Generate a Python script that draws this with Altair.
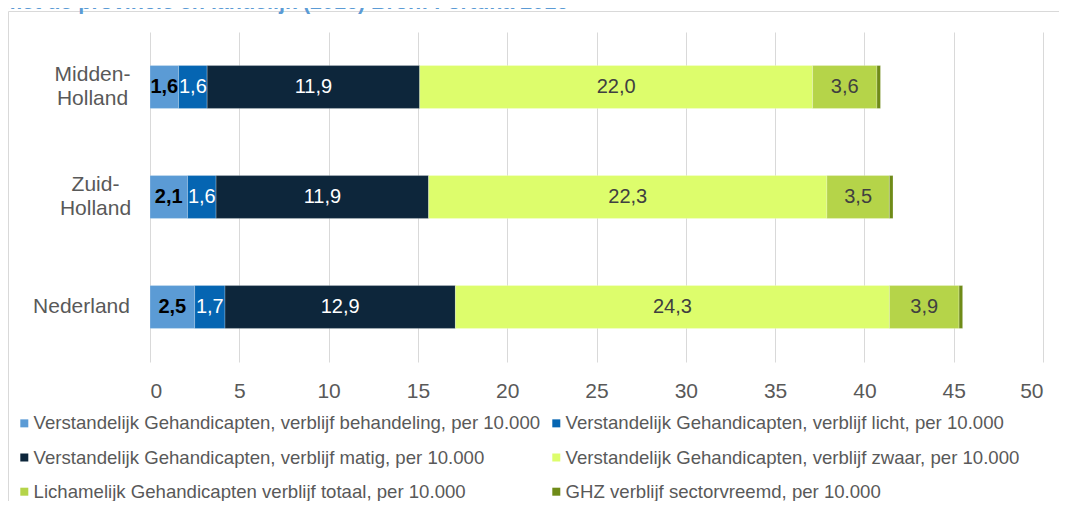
import altair as alt
import pandas as pd

categories = ["Midden-Holland", "Zuid-Holland", "Nederland"]
series = [
    "Verstandelijk Gehandicapten, verblijf behandeling, per 10.000",
    "Verstandelijk Gehandicapten, verblijf licht, per 10.000",
    "Verstandelijk Gehandicapten, verblijf matig, per 10.000",
    "Verstandelijk Gehandicapten, verblijf zwaar, per 10.000",
    "Lichamelijk Gehandicapten verblijf totaal, per 10.000",
    "GHZ verblijf sectorvreemd, per 10.000",
]
vg_behandeling = [1.6, 2.1, 2.5]
vg_licht = [1.6, 1.6, 1.7]
vg_matig = [11.9, 11.9, 12.9]
vg_zwaar = [22.0, 22.3, 24.3]
lg_totaal = [3.6, 3.5, 3.9]
ghz_sectorvreemd = [0.2, 0.2, 0.2]
x_ticks = [0, 5, 10, 15, 20, 25, 30, 35, 40, 45, 50]
title_text = "met de provincie en landelijk (2016) Bron: Fortuna 2016"

colors = ["#5B9BD5", "#0565B2", "#0D263B", "#DDFD6C", "#B5D449", "#6F8B18"]

all_series = [vg_behandeling, vg_licht, vg_matig, vg_zwaar, lg_totaal, ghz_sectorvreemd]
rows = []
for si, (name, vals) in enumerate(zip(series, all_series)):
    for ci, cat in enumerate(categories):
        rows.append({"category": cat, "series": name, "idx": si, "value": vals[ci]})
df = pd.DataFrame(rows)

FONT = "Liberation Sans"

base = (
    alt.Chart(df)
    .transform_stack(stack="value", groupby=["category"], as_=["x0", "x1"],
                     sort=[alt.SortField("idx", order="ascending")])
    .transform_calculate(mid="(datum.x0 + datum.x1) / 2",
                         label="replace(format(datum.value, '.1f'), '.', ',')")
)

x_enc_scale = alt.Scale(domain=[0, 50], nice=False, zero=True)
x_axis = alt.Axis(values=x_ticks, title=None, domain=False, ticks=False, grid=True,
                  gridColor="#D9D9D9", gridWidth=1, labelFont=FONT, labelFontSize=21,
                  labelColor="#595959", labelPadding=18)
y_enc = alt.Y(
    "category:N", sort=categories, title=None,
    scale=alt.Scale(paddingInner=0.61, paddingOuter=0.305),
    axis=alt.Axis(
        domain=False, ticks=False, grid=False, labelFont=FONT, labelFontSize=21,
        labelColor="#595959", labelAlign="center", labelBaseline="middle",
        labelLineHeight=24, labelLimit=0,
        labelPadding={"condition": [{"test": "datum.value == 'Nederland'", "value": 69},
                                    {"test": "datum.value == 'Zuid-Holland'", "value": 55}],
                      "value": 58},
        labelOffset={"condition": {"test": "indexof(datum.value, '-') > 0", "value": -12},
                     "value": 0},
        labelExpr="indexof(datum.label, '-') > 0 ? [slice(datum.label, 0, indexof(datum.label, '-') + 1), slice(datum.label, indexof(datum.label, '-') + 1)] : datum.label",
    ),
)

bars = base.mark_bar(stroke="#FFFFFF", strokeWidth=0.4, strokeOpacity=0.6).encode(
    x=alt.X("x0:Q", scale=x_enc_scale, axis=x_axis),
    x2="x1:Q",
    y=y_enc,
    color=alt.Color(
        "series:N",
        scale=alt.Scale(domain=series, range=colors),
        sort=series,
        legend=alt.Legend(
            title=None, orient="none", legendX=-135, legendY=382, columns=2,
            direction="horizontal",
            symbolType="square", symbolSize=64, symbolStrokeWidth=0, labelOffset=0,
            labelFont=FONT, labelFontSize=18.6, labelColor="#595959", labelLimit=0,
            columnPadding=6, rowPadding=15.2, padding=0,
        ),
    ),
)


def label_layer(filter_expr, color, weight):
    return base.transform_filter(filter_expr).mark_text(
        font=FONT, fontSize=20, color=color, fontWeight=weight,
        align="center", baseline="middle"
    ).encode(
        x=alt.X("mid:Q", scale=x_enc_scale, axis=x_axis),
        y=y_enc,
        text="label:N",
    )


lab_bold = label_layer("datum.idx == 0", "#000000", "bold")
lab_white = label_layer("datum.idx == 1 || datum.idx == 2", "#FFFFFF", "normal")
lab_gray = label_layer("datum.idx == 3 || datum.idx == 4", "#404040", "normal")

deco = alt.Chart(alt.Data(values=[{"t": title_text}]))
frame_top = deco.mark_rule(color="#D9D9D9", strokeWidth=1).encode(
    x=alt.value(-141.5), x2=alt.value(1000), y=alt.value(-20.5))
frame_left = deco.mark_rule(color="#D9D9D9", strokeWidth=1).encode(
    x=alt.value(-141.5), y=alt.value(-20.5), y2=alt.value(600))
title_mark = deco.mark_text(font=FONT, fontSize=21.5, fontWeight="bold", color="#5B9BD5",
                            align="left", baseline="alphabetic").encode(
    x=alt.value(-147), y=alt.value(-23), text="t:N")

chart = (
    alt.layer(frame_top, frame_left, title_mark, bars, lab_bold, lab_white, lab_gray)
    .properties(width=893, height=330,
                padding={"left": 142, "top": 24, "right": 16, "bottom": 139},
                autosize=alt.AutoSizeParams(type="none"),
                background="#FFFFFF")
    .configure_view(strokeWidth=0)
)

chart.save("out.html", embed_options={"renderer": "svg", "actions": False})
